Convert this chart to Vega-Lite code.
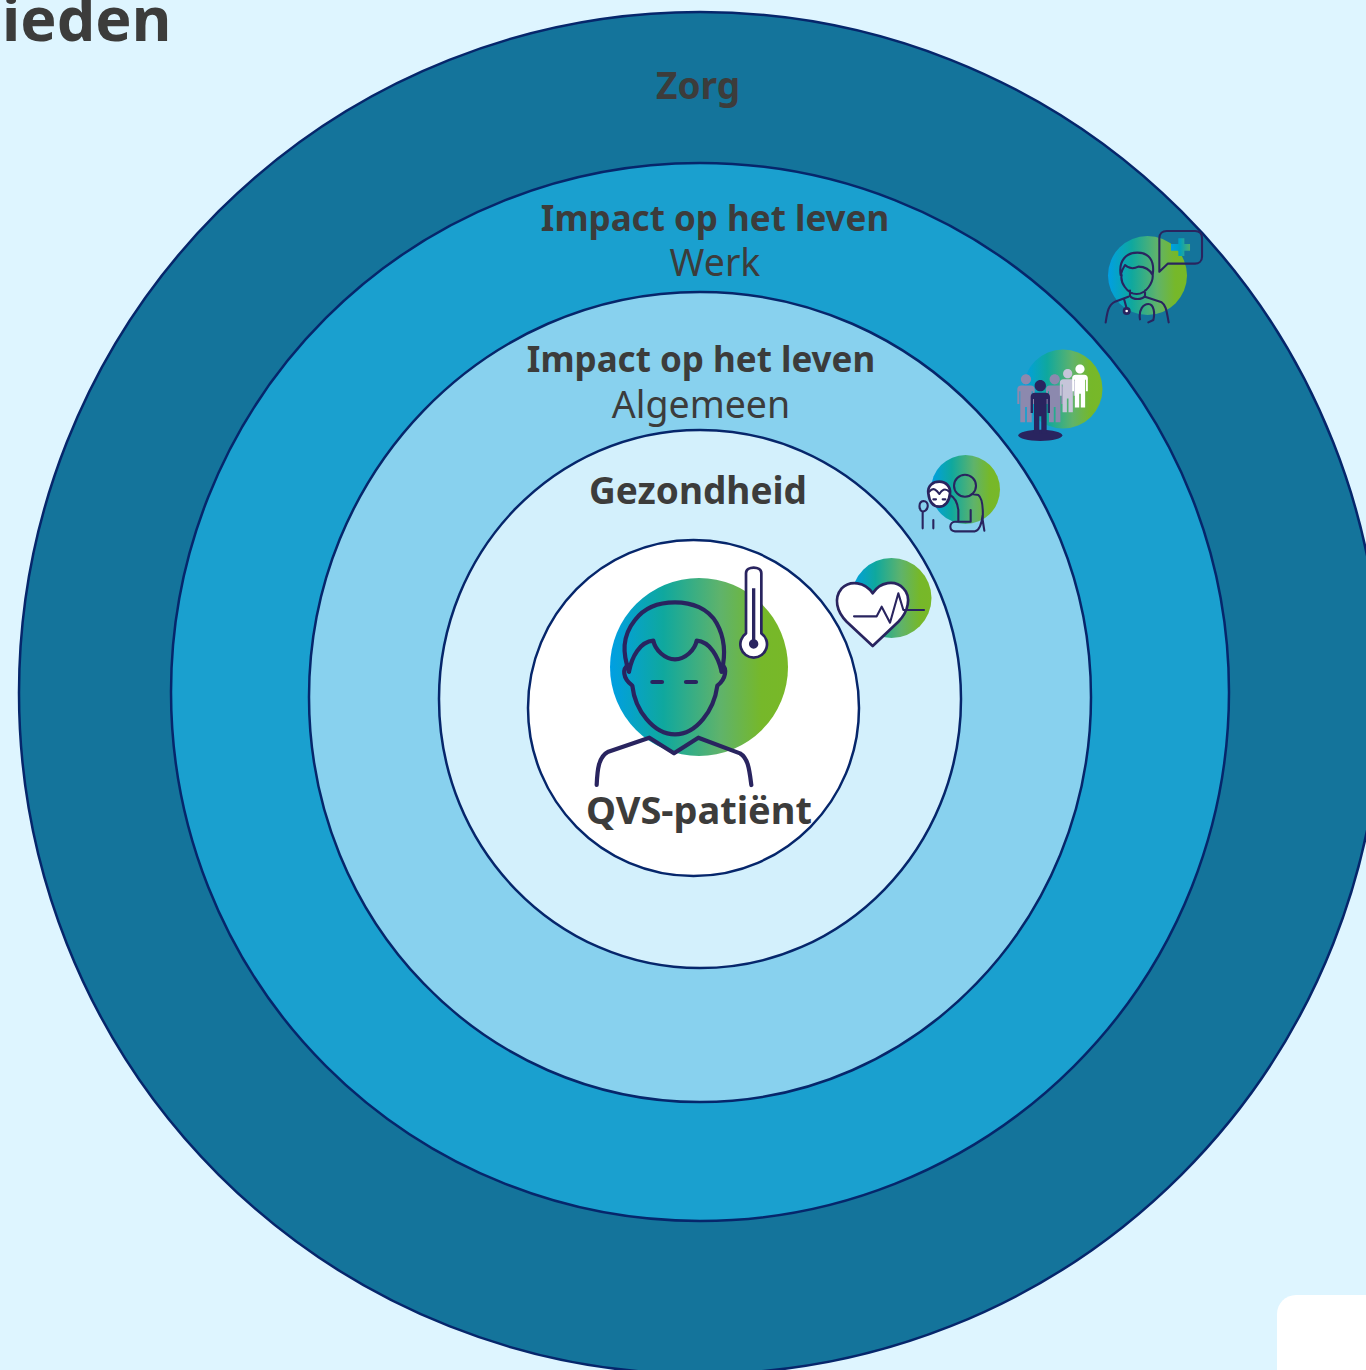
{"$schema":"https://vega.github.io/schema/vega-lite/v6.json","width":1366,"height":1370,"autosize":{"type":"fit","contains":"padding"},"padding":0,"background":"#def5ff","view":{"stroke":null},
"encoding":{"x":{"field":"x","type":"quantitative","axis":null,"scale":{"domain":[0,1366],"nice":false,"zero":false}},"y":{"field":"y","type":"quantitative","axis":null,"scale":{"domain":[0,1370],"nice":false,"zero":false,"reverse":true}}},
"resolve":{"scale":{"shape":"independent","size":"independent","fill":"independent"}},
"layer":[
{"data":{"values":[{"x":1277,"x2":1420,"y":1295,"y2":1420}]},"mark":{"type":"rect","fill":"#ffffff","cornerRadius":19,"clip":true},"encoding":{"x2":{"field":"x2"},"y2":{"field":"y2"}}},
{"data":{"values":[{"ring":"Zorg","x":700,"y":693,"d":1362},{"ring":"Werk","x":700,"y":692,"d":1058},{"ring":"Algemeen","x":700,"y":697,"d":782},{"ring":"Gezondheid","x":700,"y":699,"d":522},{"ring":"Patient","x":693.5,"y":708,"d":331}]},
"mark":{"type":"point","filled":true,"opacity":1,"stroke":"#06266b","strokeWidth":2.5,"clip":true},
"encoding":{"size":{"field":"d","type":"quantitative","legend":null,"scale":{"type":"pow","exponent":2,"domain":[0,1366],"range":[0,1865956]}},
"fill":{"field":"ring","type":"nominal","legend":null,"scale":{"domain":["Zorg","Werk","Algemeen","Gezondheid","Patient"],"range":["#14749b","#1aa0cf","#88d1ee","#d3f0fc","#ffffff"]}},
"shape":{"field":"ring","type":"nominal","legend":null,"scale":{"domain":["Zorg","Werk","Algemeen","Gezondheid","Patient"],"range":["circle","circle","M -1 0 A 1 1.036 0 1 1 1 0 A 1 1.036 0 1 1 -1 0 Z","M -1 0 A 1 1.031 0 1 1 1 0 A 1 1.031 0 1 1 -1 0 Z","M -1 0 A 1 1.015 0 1 1 1 0 A 1 1.015 0 1 1 -1 0 Z"]}},
"order":{"field":"d","sort":"descending"}}},
{"data":{"values":[{"x":699,"y":667,"d":178},{"x":891.5,"y":598,"d":80},{"x":965.5,"y":489.5,"d":69},{"x":1063,"y":389,"d":79},{"x":1147.5,"y":275.5,"d":79}]},
"mark":{"type":"point","shape":"circle","opacity":1,"strokeWidth":0,"filled":true,"fill":{"gradient":"linear","x1":0,"y1":0,"x2":1,"y2":0,"stops":[{"offset":0,"color":"#009fe3"},{"offset":0.3,"color":"#0fa89e"},{"offset":0.62,"color":"#5fb36b"},{"offset":0.85,"color":"#76b82a"},{"offset":1,"color":"#78b828"}]}},
"encoding":{"size":{"field":"d","type":"quantitative","legend":null,"scale":{"type":"pow","exponent":2,"domain":[0,1366],"range":[0,1865956]}}}},
{"data":{"values":[{"deel":"a","x":560,"y":540,"d":0.6667},{"deel":"b","x":560,"y":540,"d":0.6667},{"deel":"c","x":560,"y":540,"d":0.6667},{"deel":"d","x":560,"y":540,"d":0.6667}]},
"mark":{"type":"point","filled":false,"opacity":1,"stroke":"#29245f","strokeWidth":4.2,"strokeCap":"round","strokeJoin":"round"},
"encoding":{"size":{"field":"d","type":"quantitative","legend":null,"scale":{"type":"pow","exponent":2,"domain":[0,1366],"range":[0,1865956]}},
"shape":{"field":"deel","type":"nominal","legend":null,"scale":{"domain":["a","b","c","d"],"range":["M 207 395 C 188 340 185 290 225 240 C 255 200 300 187 345 187 C 395 187 445 205 470 250 C 495 295 497 345 485 395","M 207 395 C 215 350 240 305 280 302 C 285 330 315 358 345 358 C 375 358 405 330 410 302 C 450 305 475 350 485 395","M 205 375 C 187 385 187 415 217 437 C 225 510 280 583 345 583 C 410 583 462 510 472 437 C 500 415 500 385 487 375 M 277 426 L 306 426 M 378 426 L 408 426","M 110 735 C 112 690 115 650 145 635 L 268 593 L 342 640 L 415 593 L 540 640 C 565 655 568 690 574 735"]}}}},
{"data":{"values":[{"deel":"therm","x":560,"y":540,"d":0.6667},{"deel":"hart","x":560,"y":540,"d":0.6667},{"deel":"gezicht","x":900,"y":220,"d":0.6667},{"deel":"stetho","x":900,"y":220,"d":0.6667}]},
"mark":{"type":"point","filled":true,"opacity":1,"fill":"#ffffff","stroke":"#29245f","strokeWidth":2.7,"strokeJoin":"round"},
"encoding":{"size":{"field":"d","type":"quantitative","legend":null,"scale":{"type":"pow","exponent":2,"domain":[0,1366],"range":[0,1865956]}},
"shape":{"field":"deel","type":"nominal","legend":null,"scale":{"domain":["therm","hart","gezicht","stetho"],"range":["M 558 100 C 558 88 570 83 581 83 C 592 83 604 88 604 100 L 604 280 A 40 40 0 1 1 558 280 Z","M 938 160 C 915 125 870 120 845 145 C 820 175 830 215 860 245 L 938 318 L 1015 245 C 1045 215 1055 170 1030 145 C 1005 118 960 125 938 160 Z","M 85 820 C 82 795 100 785 118 785 C 138 785 152 800 150 820 C 148 845 135 860 118 860 C 100 860 88 845 85 820 Z","M 672 273 A 8 8 0 1 1 688 273 A 8 8 0 1 1 672 273 Z"]}}}},
{"data":{"values":[{"deel":"ecg","x":560,"y":540,"d":0.6667},{"deel":"dokter","x":900,"y":220,"d":0.6667},{"deel":"zorger","x":900,"y":220,"d":0.6667},{"deel":"oudere","x":900,"y":220,"d":0.6667}]},
"mark":{"type":"point","filled":false,"opacity":1,"stroke":"#29245f","strokeWidth":2.1,"strokeCap":"round","strokeJoin":"round"},
"encoding":{"size":{"field":"d","type":"quantitative","legend":null,"scale":{"type":"pow","exponent":2,"domain":[0,1366],"range":[0,1865956]}},
"shape":{"field":"deel","type":"nominal","legend":null,"scale":{"domain":["ecg","dokter","zorger","oudere"],"range":["M 882 229 L 950 229 L 965 200 L 990 248 L 1015 160 L 1030 210 L 1092 210","M 665 165 C 660 185 680 222 710 222 C 740 222 760 185 758 165 M 662 165 C 655 120 680 98 712 98 C 745 98 765 120 758 165 C 750 150 735 140 715 140 C 695 150 680 140 675 135 C 668 145 665 155 662 165 M 690 212 L 690 228 C 700 240 725 240 735 228 L 735 212 M 617 307 C 622 275 625 255 645 245 L 685 230 M 735 230 L 785 247 C 798 255 800 275 806 307 M 672 237 L 680 265 M 720 298 C 715 270 730 252 745 252 C 762 252 765 280 760 300 L 745 307 M 778 155 L 778 55 C 778 40 788 33 800 33 L 885 33 C 900 33 906 43 906 55 L 906 110 C 906 125 895 131 885 131 L 803 131 Z","M 162 797 A 33 33 0 1 1 228 797 A 33 33 0 1 1 162 797 Z M 175 905 L 175 870 C 172 845 160 830 150 825 M 215 822 L 235 825 C 248 835 250 860 248 900 L 253 932 M 212 870 L 212 905 L 165 905 C 148 905 145 932 165 934 L 225 934 C 240 930 245 910 248 885","M 88 815 C 100 800 110 810 118 822 C 125 810 135 802 148 815 M 100 838 L 108 838 M 128 838 L 136 838 M 68 925 L 68 875 C 55 870 55 845 70 843 C 88 845 88 870 68 875 M 100 900 L 100 925"]}}}},
{"data":{"values":[{"deel":"bol","x":560,"y":540},{"deel":"voet","x":900,"y":220}]},
"mark":{"type":"point","filled":true,"opacity":1,"fill":"#29245f","strokeWidth":0,"size":0.4444},
"encoding":{"shape":{"field":"deel","type":"nominal","legend":null,"scale":{"domain":["bol","voet"],"range":["M 567 312 A 14 14 0 1 1 595 312 A 14 14 0 1 1 567 312 Z M 576 145 L 586 145 L 586 300 L 576 300 Z","M 355 646 A 66 17 0 1 1 487 646 A 66 17 0 1 1 355 646 Z"]}}}},
{"data":{"values":[{"tint":"grijs","x":1026,"y":379.3,"d":0.6},{"tint":"grijs","x":1054.7,"y":379.3,"d":0.6},{"tint":"licht","x":1067.7,"y":373.7,"d":0.54},{"tint":"wit","x":1080,"y":369,"d":0.54},{"tint":"donker","x":1040.3,"y":385.7,"d":0.6667}]},
"mark":{"type":"point","filled":true,"opacity":1,"strokeWidth":0,"shape":"M -17 0 A 17 17 0 1 1 17 0 A 17 17 0 1 1 -17 0 Z M -16 21 L 16 21 C 24 21 29 26 29 33 L 29 82 L 22 82 L 22 40 L 19 40 L 19 143 L 3 143 L 3 92 L -3 92 L -3 143 L -19 143 L -19 40 L -22 40 L -22 82 L -29 82 L -29 33 C -29 26 -24 21 -16 21 Z"},
"encoding":{"size":{"field":"d","type":"quantitative","legend":null,"scale":{"type":"pow","exponent":2,"domain":[0,1366],"range":[0,1865956]}},
"fill":{"field":"tint","type":"nominal","legend":null,"scale":{"domain":["grijs","licht","wit","donker"],"range":["#8c89ae","#c6c5d9","#ffffff","#29245f"]}}}},
{"data":{"values":[{"x":900,"y":220,"d":0.6667}]},
"mark":{"type":"point","filled":true,"opacity":1,"strokeWidth":0,"shape":"M 835 55 L 853 55 L 853 72 L 870 72 L 870 92 L 853 92 L 853 108 L 835 108 L 835 92 L 813 92 L 813 72 L 835 72 Z","fill":{"gradient":"linear","x1":0,"y1":0,"x2":1,"y2":0,"stops":[{"offset":0,"color":"#009fe3"},{"offset":0.45,"color":"#00a0c0"},{"offset":1,"color":"#4caf6e"}]}},
"encoding":{"size":{"field":"d","type":"quantitative","legend":null,"scale":{"type":"pow","exponent":2,"domain":[0,1366],"range":[0,1865956]}}}},
{"data":{"values":[{"t":"Zorg","x":698,"y":99},{"t":"Gezondheid","x":698,"y":504}]},
"mark":{"type":"text","font":"Noto Sans","fontWeight":"bold","fontSize":37,"fill":"#3c3c3b","align":"center","baseline":"alphabetic"},"encoding":{"text":{"field":"t","type":"nominal"}}},
{"data":{"values":[{"t":"Impact op het leven","x":715,"y":231},{"t":"Impact op het leven","x":701,"y":372}]},
"mark":{"type":"text","font":"Noto Sans","fontWeight":"bold","fontSize":35,"fill":"#3c3c3b","align":"center","baseline":"alphabetic"},"encoding":{"text":{"field":"t","type":"nominal"}}},
{"data":{"values":[{"t":"QVS-patiënt","x":699,"y":824}]},
"mark":{"type":"text","font":"Noto Sans","fontWeight":"bold","fontSize":38,"fill":"#3c3c3b","align":"center","baseline":"alphabetic"},"encoding":{"text":{"field":"t","type":"nominal"}}},
{"data":{"values":[{"t":"Werk","x":715,"y":276},{"t":"Algemeen","x":701,"y":418}]},
"mark":{"type":"text","font":"Noto Sans","fontSize":37.5,"fill":"#3c3c3b","align":"center","baseline":"alphabetic"},"encoding":{"text":{"field":"t","type":"nominal"}}},
{"data":{"values":[{"t":"ieden","x":2,"y":41}]},
"mark":{"type":"text","font":"Noto Sans","fontWeight":"bold","fontSize":61,"fill":"#3c3c3b","align":"left","baseline":"alphabetic","clip":true},"encoding":{"text":{"field":"t","type":"nominal"}}}
]}
